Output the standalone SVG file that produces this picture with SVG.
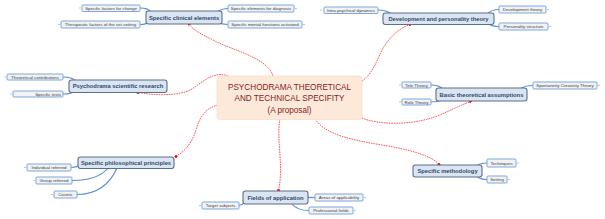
<svg xmlns="http://www.w3.org/2000/svg" width="605" height="219" viewBox="0 0 605 219">
<defs>
<marker id="dot" viewBox="0 0 4 4" refX="2" refY="2" markerWidth="2.6" markerHeight="2.6" markerUnits="userSpaceOnUse" orient="auto">
<rect x="0" y="0" width="4" height="4" fill="#ff0000"/>
</marker>
</defs>
<style>
.bg{fill:#ffffff}
.main rect{fill:#dbe5f1;stroke:#58708f;stroke-width:1.1}
.main text{font-family:"Liberation Sans",Arial,sans-serif;font-size:5.8px;font-weight:bold;fill:#2f4a6e;text-anchor:middle}
.leaf rect{fill:#f2f2f2;stroke:#7fa7dc;stroke-width:1}
.leaf text{font-family:"Liberation Sans",Arial,sans-serif;font-size:4.4px;fill:#404040;text-anchor:middle}
.leaf line{stroke:#9bbbe6;stroke-width:0.8}
.center rect{fill:#fde9d9;stroke:#fbdcc6;stroke-width:0.8}
.center text{font-family:"Liberation Sans",Arial,sans-serif;font-size:8.2px;fill:#8a1c1c;text-anchor:middle}
.rel path{fill:none;stroke:#ff2a2a;stroke-width:0.8;stroke-dasharray:1.6 0.9;marker-end:url(#dot)}
.br path{fill:none;stroke:#5b8fd6;stroke-width:1.2}
</style>
<rect class="bg" x="0" y="0" width="605" height="219"/>
<g id="connectors">
<g class="rel">
<path d="M273,76 C268,58 232,50 215,41 C201,34 193,30 189,24"/>
<path d="M362,81 C375,72 378,55 385,45 C392,35 400,28 410,24.5"/>
<path d="M228,76 C215,71 205,80 192,89 C178,97 152,95 138,92.5"/>
<path d="M362,118 C376,124 410,127 440,115 C455,108 464,104 470.5,101.5"/>
<path d="M218,105 C206,108 200,116 196,130 C191,146 183,152 176,156.5"/>
<path d="M280,119 C276,140 284,165 278.5,190.5"/>
<path d="M315,119 C326,135 352,140 382,145 C412,150 432,156 439,164.5"/>
</g>
<g class="br">
<path d="M140,8 C146,8 148,9 151,12"/>
<path d="M140,24.5 C146,24.5 148,23.5 151,21"/>
<path d="M217,12 C221,9 224,8.5 228,8.5"/>
<path d="M217,22 C221,24 224,24.5 228,24.5"/>
<path d="M378,10 C384,10 388,11 391,14"/>
<path d="M487,14 C491,10 495,9.5 499,9.5"/>
<path d="M487,23 C491,26 495,26.5 499,26.5"/>
<path d="M63,77 C70,77 73,78 76,81"/>
<path d="M63,94 C70,94 73,93 76,91"/>
<path d="M431,85 C437,85 440,86 443,89"/>
<path d="M431,102 C437,102 440,101 443,100"/>
<path d="M520,89 C524,86 528,85.5 533,85.5"/>
<path d="M71,167.5 C75,167.5 77,167 80,165"/>
<path d="M108,168 C100,178 85,180.5 72,180.5"/>
<path d="M117,168 C108,188 92,194.5 77,194.5"/>
<path d="M308,197.5 C311,197.5 312,197.5 315,197.5"/>
<path d="M239,205.5 C242,205.5 243,204 245,202"/>
<path d="M292,204 C296,209 302,210.5 309,210.5"/>
<path d="M476,166 C480,163 483,163 487,163"/>
<path d="M476,176 C480,179 483,179.5 487,179.5"/>
</g>
</g>
<g id="center" class="center">
<rect x="217" y="76" width="145" height="43.5" rx="3"/>
<text x="289.5" y="89.5">PSYCHODRAMA THEORETICAL</text>
<text x="289.5" y="101">AND TECHNICAL SPECIFITY</text>
<text x="289.5" y="112.5">(A proposal)</text>
</g>
<g id="n-clinical" class="main"><rect x="146" y="11" width="76" height="13" rx="2.5"/><text x="184" y="19.5">Specific clinical elements</text></g>
<g id="n-development" class="main"><rect x="383" y="13" width="111" height="11.5" rx="2.5"/><text x="438.5" y="20.8">Development and personality theory</text></g>
<g id="n-research" class="main"><rect x="69" y="80" width="98" height="12.5" rx="2.5"/><text x="118" y="88.3">Psychodrama scientific research</text></g>
<g id="n-basic" class="main"><rect x="436" y="88" width="91" height="13" rx="2.5"/><text x="481.5" y="96.5">Basic theoretical assumptions</text></g>
<g id="n-philosophical" class="main"><rect x="78" y="157" width="96" height="11.5" rx="2.5"/><text x="126" y="164.8">Specific philosophical principles</text></g>
<g id="n-fields" class="main"><rect x="243" y="191" width="65" height="13" rx="2.5"/><text x="275.5" y="199.5">Fields of application</text></g>
<g id="n-methodology" class="main"><rect x="413" y="165" width="69" height="12" rx="2.5"/><text x="447.5" y="173.2">Specific methodology</text></g>

<g id="l-factors" class="leaf"><line x1="79" y1="8" x2="81" y2="8"/><rect x="82" y="5" width="58" height="6.5" rx="1"/><text x="111" y="9.8">Specific factors for change</text></g>
<g id="l-therapeutic" class="leaf"><line x1="58" y1="24.5" x2="60" y2="24.5"/><rect x="61" y="21" width="79" height="7" rx="1"/><text x="100.5" y="26">Therapeutic factors of the set-setting</text></g>
<g id="l-diagnosis" class="leaf"><line x1="295" y1="8.5" x2="297" y2="8.5"/><rect x="228" y="5" width="66" height="7" rx="1"/><text x="261" y="10">Specific elements for diagnosis</text></g>
<g id="l-mental" class="leaf"><line x1="303" y1="24.5" x2="305" y2="24.5"/><rect x="228" y="21" width="74" height="7" rx="1"/><text x="265" y="26">Specific mental functions activated</text></g>
<g id="l-intra" class="leaf"><line x1="320" y1="10" x2="322" y2="10"/><rect x="324" y="7" width="54" height="6.5" rx="1"/><text x="351" y="11.8">Intra-psychical dynamics</text></g>
<g id="l-devtheory" class="leaf"><line x1="547" y1="9.5" x2="549" y2="9.5"/><rect x="499" y="6" width="47" height="7" rx="1"/><text x="522.5" y="11">Development theory</text></g>
<g id="l-personality" class="leaf"><line x1="549" y1="26.5" x2="551" y2="26.5"/><rect x="499" y="23" width="49" height="7" rx="1"/><text x="523.5" y="28">Personality structure</text></g>
<g id="l-contrib" class="leaf"><line x1="4" y1="77" x2="6" y2="77"/><rect x="7" y="74" width="56" height="6" rx="1"/><text x="35" y="78.6">Theoretical contributions</text></g>
<g id="l-tests" class="leaf"><line x1="10" y1="94" x2="12" y2="94"/><rect x="13" y="91" width="50" height="6" rx="1"/><text x="61" y="95.6" style="text-anchor:end">Specific tests</text></g>
<g id="l-tele" class="leaf"><line x1="399" y1="85" x2="401" y2="85"/><rect x="402" y="82" width="29" height="6" rx="1"/><text x="416.5" y="86.6">Tele Theory</text></g>
<g id="l-role" class="leaf"><line x1="399" y1="102" x2="401" y2="102"/><rect x="402" y="99" width="29" height="6" rx="1"/><text x="416.5" y="103.6">Role Theory</text></g>
<g id="l-spont" class="leaf"><line x1="598" y1="85.5" x2="600" y2="85.5"/><rect x="533" y="82" width="64" height="7" rx="1"/><text x="565" y="87">Spontaneity Creativity Theory</text></g>
<g id="l-individual" class="leaf"><line x1="24" y1="167.5" x2="26" y2="167.5"/><rect x="27" y="164" width="44" height="7" rx="1"/><text x="49" y="169">Individual referred</text></g>
<g id="l-group" class="leaf"><line x1="33" y1="180.5" x2="35" y2="180.5"/><rect x="36" y="177" width="36" height="7" rx="1"/><text x="54" y="182">Group referred</text></g>
<g id="l-cosmic" class="leaf"><line x1="51" y1="194.5" x2="53" y2="194.5"/><rect x="54" y="191" width="23" height="7" rx="1"/><text x="65.5" y="196">Cosmic</text></g>
<g id="l-areas" class="leaf"><line x1="364" y1="197.5" x2="366" y2="197.5"/><rect x="315" y="194" width="48" height="7" rx="1"/><text x="339" y="199">Areas of applicability</text></g>
<g id="l-target" class="leaf"><line x1="199" y1="205.5" x2="201" y2="205.5"/><rect x="202" y="202" width="37" height="7" rx="1"/><text x="220.5" y="207">Target subjects</text></g>
<g id="l-professional" class="leaf"><line x1="354" y1="210.5" x2="356" y2="210.5"/><rect x="309" y="207" width="44" height="7" rx="1"/><text x="331" y="212">Professional fields</text></g>
<g id="l-techniques" class="leaf"><line x1="517" y1="163" x2="519" y2="163"/><rect x="487" y="159" width="29" height="8" rx="1"/><text x="501.5" y="164.6">Techniques</text></g>
<g id="l-setting" class="leaf"><line x1="508" y1="179.5" x2="510" y2="179.5"/><rect x="487" y="176" width="20" height="7" rx="1"/><text x="497" y="181">Setting</text></g>
</svg>
